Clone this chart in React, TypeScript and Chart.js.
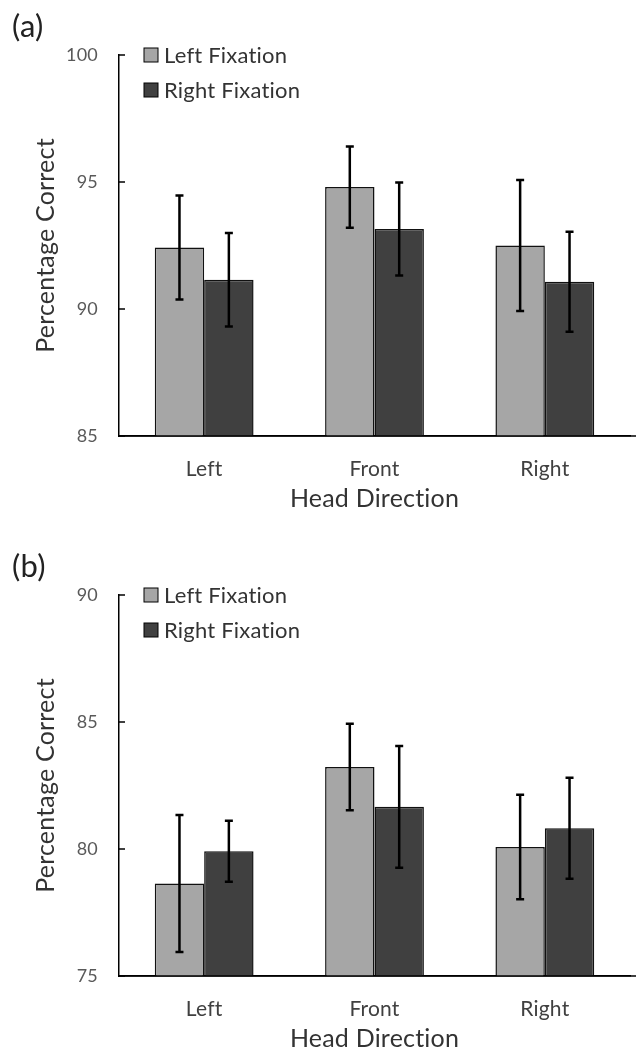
import React, { useEffect, useRef } from "react";
import { Chart, registerables } from "chart.js";

Chart.register(...registerables);

const categories = ["Left", "Front", "Right"];
const seriesLabels = ["Left Fixation", "Right Fixation"];

// Panel (a)
const leftFixA = [92.42, 94.8, 92.5];
const leftErrA = [2.05, 1.6, 2.58];
const rightFixA = [91.15, 93.15, 91.07];
const rightErrA = [1.84, 1.83, 1.97];
const yTicksA = [85, 90, 95, 100];

// Panel (b)
const leftFixB = [78.64, 83.23, 80.08];
const leftErrB = [2.7, 1.7, 2.06];
const rightFixB = [79.91, 81.66, 80.82];
const rightErrB = [1.2, 2.4, 1.99];
const yTicksB = [75, 80, 85, 90];

const LIGHT = "#a6a6a6";
const DARK = "#404040";
const FONT = "Lato, 'Open Sans', sans-serif";

type PanelProps = {
  tag: string;
  left: number[];
  leftErr: number[];
  right: number[];
  rightErr: number[];
  yTicks: number[];
};

const H = 540;
const PAD_TOP = 55;

function Panel({ tag, left, leftErr, right, rightErr, yTicks }: PanelProps) {
  const ref = useRef<HTMLCanvasElement | null>(null);
  useEffect(() => {
    if (!ref.current) return;
    const errs = [leftErr, rightErr];
    const extras = {
      id: "extras",
      beforeDraw(chart: any) {
        // a tiny letter spacing stops the "ti" ligature of the font
        (chart.ctx as any).letterSpacing = "0.2px";
      },
      afterDatasetsDraw(chart: any) {
        const ctx = chart.ctx;
        const ys = chart.scales.y;
        ctx.save();
        ctx.strokeStyle = "#000";
        ctx.lineWidth = 2.5;
        chart.data.datasets.forEach((ds: any, di: number) => {
          const meta = chart.getDatasetMeta(di);
          meta.data.forEach((el: any, i: number) => {
            const v = ds.data[i];
            const e = errs[di][i];
            const x = el.x;
            const yt = ys.getPixelForValue(v + e);
            const yb = ys.getPixelForValue(v - e);
            ctx.beginPath();
            ctx.moveTo(x, yt);
            ctx.lineTo(x, yb);
            ctx.moveTo(x - 4, yt);
            ctx.lineTo(x + 4, yt);
            ctx.moveTo(x - 4, yb);
            ctx.lineTo(x + 4, yb);
            ctx.stroke();
          });
        });
        ctx.restore();
      },
      afterDraw(chart: any) {
        const ctx = chart.ctx;
        const ys = chart.scales.y;
        const ca = chart.chartArea;
        ctx.save();
        ctx.strokeStyle = "#000";
        ctx.lineWidth = 1.5;
        ys.ticks.forEach((t: any) => {
          const y = ys.getPixelForValue(t.value);
          ctx.beginPath();
          ctx.moveTo(ca.left, y);
          ctx.lineTo(ca.left + 6, y);
          ctx.stroke();
        });
        ctx.beginPath();
        ctx.moveTo(ca.left, ca.bottom);
        ctx.lineTo(chart.width, ca.bottom);
        ctx.stroke();
        const colors = [LIGHT, DARK];
        seriesLabels.forEach((lab, i) => {
          const cy = ca.top + i * 35;
          ctx.fillStyle = colors[i];
          ctx.fillRect(ca.left + 25, cy - 7, 14, 14);
          ctx.strokeStyle = "#000";
          ctx.lineWidth = 1;
          ctx.strokeRect(ca.left + 25, cy - 7, 14, 14);
          ctx.fillStyle = "#333";
          ctx.font = `22px ${FONT}`;
          ctx.textBaseline = "middle";
          ctx.textAlign = "left";
          ctx.fillText(lab, ca.left + 45, cy + 1);
        });
        ctx.fillStyle = "#222";
        ctx.font = `31px ${FONT}`;
        ctx.textBaseline = "middle";
        ctx.textAlign = "left";
        ctx.fillText(tag, 12, ca.top - 28);
        ctx.restore();
      },
    };
    const chart = new Chart(ref.current, {
      type: "bar",
      data: {
        labels: categories,
        datasets: [
          {
            label: seriesLabels[0],
            data: left,
            backgroundColor: LIGHT,
            borderColor: "#111",
            borderWidth: 1.5,
          },
          {
            label: seriesLabels[1],
            data: right,
            backgroundColor: DARK,
            borderColor: "#111",
            borderWidth: 1.5,
          },
        ],
      },
      options: {
        responsive: false,
        animation: false,
        layout: { padding: { top: PAD_TOP, right: 6, left: 0, bottom: 0 } },
        plugins: { legend: { display: false }, tooltip: { enabled: false } },
        datasets: { bar: { categoryPercentage: 0.58, barPercentage: 1 } },
        scales: {
          x: {
            grid: { display: false, drawTicks: false },
            border: { display: true, color: "#000", width: 1.5 },
            ticks: { color: "#404040", font: { family: FONT, size: 21 }, padding: 21 },
            title: {
              display: true,
              text: "Head Direction",
              color: "#333",
              font: { family: FONT, size: 25 },
              padding: { top: 0, bottom: 26 },
            },
            afterFit(scale: any) {
              scale.height = H - PAD_TOP - 381;
            },
          },
          y: {
            min: yTicks[0],
            max: yTicks[yTicks.length - 1],
            afterBuildTicks(scale: any) {
              scale.ticks = yTicks.map((v) => ({ value: v }));
            },
            grid: { display: true, drawOnChartArea: false, drawTicks: false },
            border: { display: true, color: "#000", width: 1.5 },
            ticks: { color: "#595959", font: { family: FONT, size: 18 }, padding: 21 },
            title: {
              display: true,
              text: "Percentage Correct",
              color: "#333",
              font: { family: FONT, size: 25 },
              padding: { top: 31, bottom: 0 },
            },
            afterFit(scale: any) {
              scale.width = 119;
            },
          },
        },
      },
      plugins: [extras],
    } as any);
    return () => chart.destroy();
  }, []);
  return (
    <canvas
      ref={ref}
      width={636}
      height={H}
      style={{ display: "block", width: 636, height: H }}
    />
  );
}

export default function App() {
  return (
    <div
      style={{
        position: "absolute",
        left: 0,
        top: 0,
        width: 636,
        height: 1053,
        overflow: "hidden",
        background: "#fff",
      }}
    >
      <Panel tag="(a)" left={leftFixA} leftErr={leftErrA} right={rightFixA} rightErr={rightErrA} yTicks={yTicksA} />
      <Panel tag="(b)" left={leftFixB} leftErr={leftErrB} right={rightFixB} rightErr={rightErrB} yTicks={yTicksB} />
    </div>
  );
}
